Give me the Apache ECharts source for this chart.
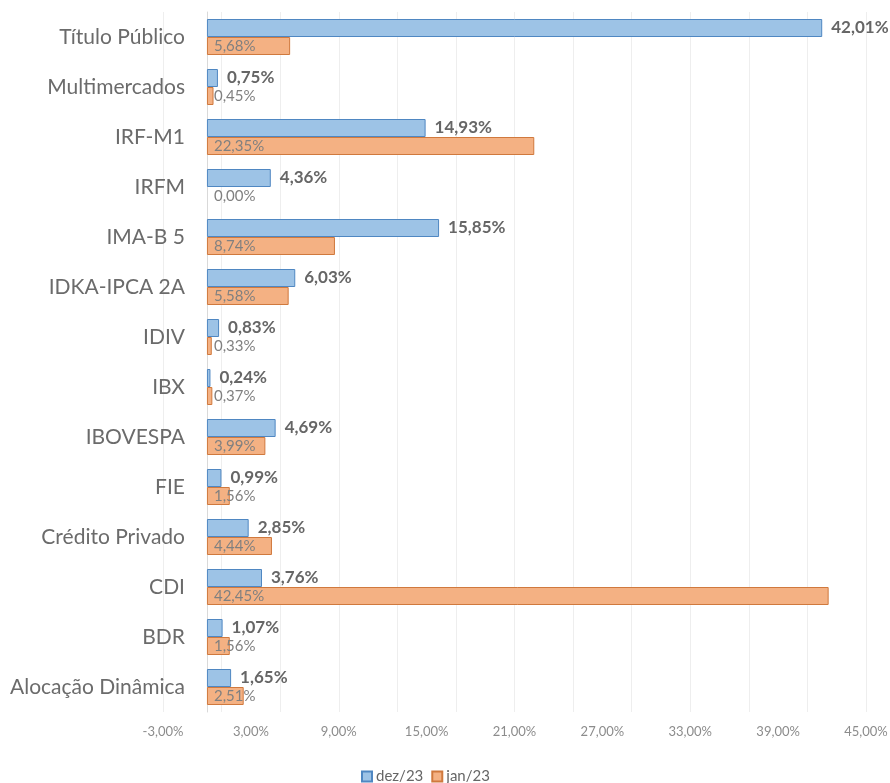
<!DOCTYPE html>
<html>
<head>
<meta charset="utf-8">
<title>Alocação</title>
<script src="https://cdn.jsdelivr.net/npm/echarts@6/dist/echarts.min.js"></script>
<style>
  html, body { margin: 0; padding: 0; background: #fff; }
  #chart { width: 890px; height: 783px; }
</style>
</head>
<body>
<div id="chart"></div>
<script>
// categorias (de cima para baixo)
var categories = ['Título Público', 'Multimercados', 'IRF-M1', 'IRFM', 'IMA-B 5', 'IDKA-IPCA 2A', 'IDIV', 'IBX',
  'IBOVESPA', 'FIE', 'Crédito Privado', 'CDI', 'BDR', 'Alocação Dinâmica'];
var dez23 = [42.01, 0.75, 14.93, 4.36, 15.85, 6.03, 0.83, 0.24, 4.69, 0.99, 2.85, 3.76, 1.07, 1.65];
var jan23 = [5.68, 0.45, 22.35, 0.00, 8.74, 5.58, 0.33, 0.37, 3.99, 1.56, 4.44, 42.45, 1.56, 2.51];
var seriesNames = ['dez/23', 'jan/23'];

function pct(v) {
  return Number(v).toFixed(2).replace('.', ',') + '%';
}

// barra de valor zero sem borda (no Excel não aparece nada)
function toItems(arr) {
  return arr.map(function (v) {
    return v === 0 ? { value: v, itemStyle: { borderWidth: 0 } } : v;
  });
}

var myChart = echarts.init(document.getElementById('chart'));
var option = {
  animation: false,
  textStyle: { fontFamily: 'Lato, "Noto Sans", sans-serif' },
  legend: {
    data: seriesNames,
    icon: 'rect',
    top: 764,
    left: 356,
    itemWidth: 10,
    itemHeight: 10,
    itemGap: 8,
    textStyle: { fontSize: 15, color: '#666666', padding: [0, 0, 0, -1] }
  },
  grid: { left: 163, right: 24, top: 12, bottom: 71, outerBoundsMode: 'none', containLabel: false },
  xAxis: [
    {
      // eixo dos rótulos: -3,00% ... 45,00% a cada 6
      type: 'value',
      min: -3,
      max: 45,
      interval: 3,
      axisLine: { show: false },
      axisTick: { show: false },
      splitLine: { show: false },
      axisLabel: {
        fontSize: 13,
        color: '#8c8c8c',
        margin: 13,
        formatter: function (v) {
          return ((v + 3) % 6 === 0) ? pct(v) : '';
        }
      }
    },
    {
      // só as linhas de grade (a cada 4 a partir de -3)
      type: 'value',
      min: 0,
      max: 48,
      interval: 4,
      position: 'bottom',
      axisLine: { show: false },
      axisTick: { show: false },
      axisLabel: { show: false },
      splitLine: { lineStyle: { color: '#eeeeee', width: 1 } }
    }
  ],
  yAxis: {
    type: 'category',
    data: categories,
    inverse: true,
    axisTick: { show: false },
    axisLine: { onZero: true, onZeroAxisIndex: 0, lineStyle: { color: '#d9d9d9' } },
    // rótulos ficam na borda do grid, então desloca até perto da linha do zero
    axisLabel: { fontSize: 21, color: '#6b6b6b', margin: -22 }
  },
  series: [
    {
      name: seriesNames[0],
      type: 'bar',
      xAxisIndex: 0,
      data: toItems(dez23),
      barWidth: 18,
      barGap: '0%',
      itemStyle: { color: '#9dc3e6', borderColor: '#4f87c2', borderWidth: 1 },
      label: {
        show: true,
        position: 'right',
        distance: 9,
        fontSize: 17,
        fontWeight: 'bold',
        color: '#666666',
        formatter: function (p) { return pct(p.value); }
      }
    },
    {
      name: seriesNames[1],
      type: 'bar',
      xAxisIndex: 0,
      data: toItems(jan23),
      barWidth: 18,
      barGap: '0%',
      itemStyle: { color: '#f4b183', borderColor: '#d0793d', borderWidth: 1 },
      label: {
        show: true,
        position: 'insideLeft',
        distance: 7,
        fontSize: 15,
        color: '#808080',
        formatter: function (p) { return pct(p.value); }
      }
    }
  ]
};
myChart.setOption(option);
</script>
</body>
</html>
